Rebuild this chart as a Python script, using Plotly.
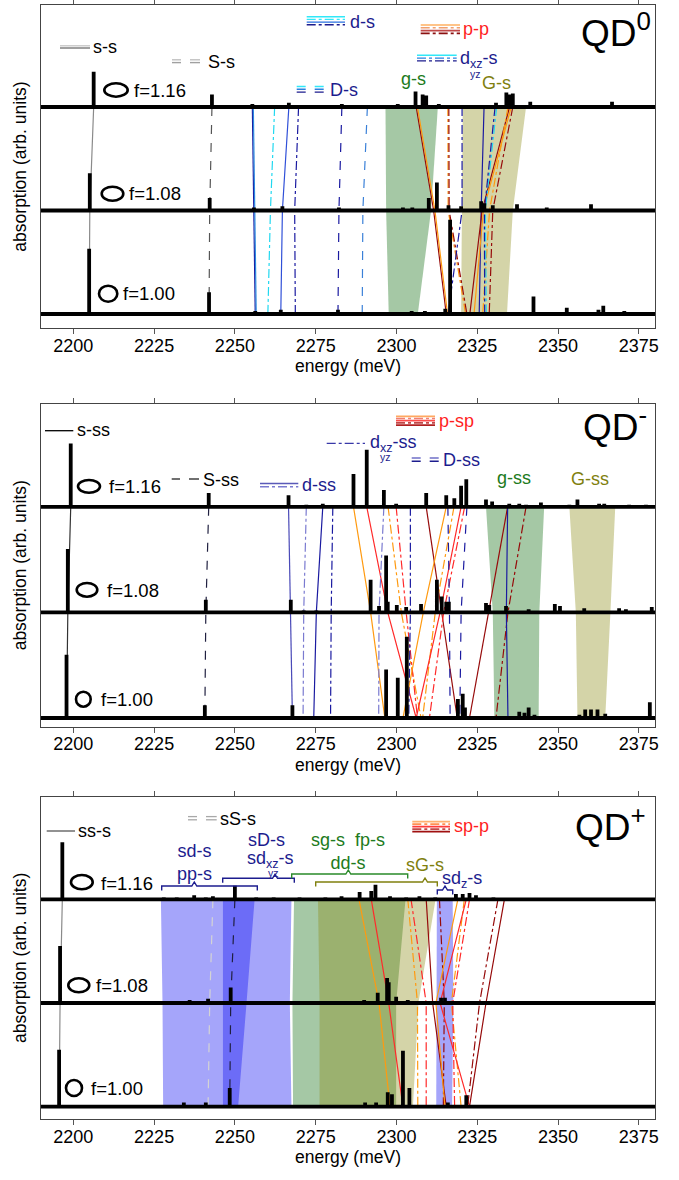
import plotly.graph_objects as go

# ---------------------------------------------------------------- data ----
E_MIN, E_MAX = 2190, 2380
tick_vals = [2200, 2225, 2250, 2275, 2300, 2325, 2350, 2375]
f_labels = ["f=1.16", "f=1.08", "f=1.00"]
offsets = [2, 1, 0]          # vertical offset of the three spectra

# QD0 spectra (peak energy in meV, peak height in offset units)
qd0_f116_E = [2206.3, 2242.9, 2255.4, 2262.3, 2266.7, 2269.7, 2283.1, 2291.0, 2296.8, 2300.4,
              2305.9, 2308.1, 2309.2, 2313.1, 2330.8, 2334.0, 2335.0, 2336.0, 2341.4, 2345.2,
              2347.8, 2351.4, 2355.5, 2360.2, 2363.8, 2366.7, 2373.0, 2376.1]
qd0_f116_h = [0.34, 0.12, 0.03, 0.02, 0.04, 0.02, 0.03, 0.02, 0.02, 0.03,
              0.15, 0.12, 0.11, 0.03, 0.04, 0.14, 0.12, 0.13, 0.05, 0.02,
              0.02, 0.02, 0.02, 0.02, 0.02, 0.05, 0.01, 0.02]
qd0_f108_E = [2205.1, 2242.2, 2255.9, 2261.0, 2264.7, 2268.5, 2282.2, 2289.6, 2298.4, 2302.0,
              2304.9, 2310.0, 2312.5, 2316.1, 2320.0, 2326.2, 2327.2, 2329.8, 2337.3, 2344.4,
              2346.5, 2353.3, 2360.2, 2365.3, 2369.9, 2375.6]
qd0_f108_h = [0.36, 0.12, 0.03, 0.01, 0.04, 0.01, 0.03, 0.01, 0.02, 0.03,
              0.03, 0.12, 0.27, 0.05, 0.04, 0.09, 0.07, 0.05, 0.06, 0.02,
              0.03, 0.02, 0.06, 0.02, 0.02, 0.01]
qd0_f100_E = [2204.9, 2242.0, 2256.3, 2260.2, 2264.2, 2268.7, 2281.9, 2289.4, 2298.4, 2304.7,
              2308.8, 2315.1, 2316.6, 2320.5, 2326.2, 2342.4, 2352.7, 2362.5, 2364.0, 2370.5]
qd0_f100_h = [0.63, 0.21, 0.03, 0.01, 0.04, 0.01, 0.04, 0.01, 0.02, 0.03,
              0.03, 0.05, 0.91, 0.02, 0.01, 0.17, 0.06, 0.04, 0.08, 0.03]

# QD- spectra
qdm_f116_E = [2199.2, 2241.9, 2266.6, 2272.1, 2277.2, 2280.3, 2286.7, 2290.8, 2296.1, 2299.9,
              2309.2, 2315.4, 2317.9, 2320.0, 2321.6, 2327.7, 2329.6, 2334.9, 2338.0, 2340.1,
              2344.7, 2353.5, 2356.0, 2362.7, 2364.3, 2372.0, 2377.2]
qdm_f116_h = [0.60, 0.13, 0.11, 0.02, 0.03, 0.01, 0.31, 0.54, 0.16, 0.03,
              0.13, 0.11, 0.08, 0.20, 0.26, 0.07, 0.05, 0.03, 0.03, 0.02,
              0.04, 0.02, 0.07, 0.03, 0.03, 0.02, 0.02]
qdm_f108_E = [2198.3, 2241.0, 2267.3, 2271.3, 2275.2, 2279.8, 2292.0, 2294.6, 2296.8, 2297.3,
              2300.1, 2303.0, 2307.6, 2312.5, 2314.0, 2315.4, 2316.2, 2327.7, 2328.7, 2333.9,
              2340.9, 2349.0, 2350.6, 2358.1, 2368.9, 2371.0, 2379.0]
qdm_f108_h = [0.60, 0.12, 0.12, 0.02, 0.02, 0.01, 0.31, 0.06, 0.54, 0.10,
              0.07, 0.05, 0.08, 0.31, 0.15, 0.10, 0.10, 0.09, 0.07, 0.06,
              0.03, 0.08, 0.06, 0.04, 0.04, 0.03, 0.05]
qdm_f100_E = [2197.9, 2240.7, 2267.8, 2271.1, 2274.4, 2279.6, 2294.8, 2296.8, 2300.4, 2303.2,
              2306.1, 2310.2, 2316.6, 2319.0, 2320.5, 2321.2, 2324.1, 2331.8, 2338.0, 2339.6,
              2340.9, 2342.7, 2345.2, 2356.6, 2358.4, 2360.2, 2362.2, 2364.6, 2366.9, 2378.4]
qdm_f100_h = [0.60, 0.12, 0.12, 0.01, 0.02, 0.01, 0.01, 0.46, 0.38, 0.77,
              0.02, 0.02, 0.02, 0.18, 0.23, 0.10, 0.02, 0.02, 0.06, 0.05,
              0.10, 0.03, 0.02, 0.03, 0.08, 0.08, 0.08, 0.04, 0.02, 0.15]

# QD+ spectra
qdp_f116_E = [2196.6, 2228.0, 2232.0, 2237.4, 2241.0, 2243.2, 2250.0, 2256.6, 2262.0, 2270.0,
              2278.0, 2283.0, 2288.6, 2292.2, 2293.5, 2298.0, 2303.0, 2307.1, 2312.0, 2318.4,
              2320.5, 2322.6, 2324.6, 2330.0, 2345.0, 2360.0]
qdp_f116_h = [0.55, 0.02, 0.02, 0.04, 0.02, 0.03, 0.13, 0.02, 0.02, 0.02,
              0.02, 0.03, 0.07, 0.08, 0.14, 0.03, 0.02, 0.03, 0.02, 0.05,
              0.05, 0.06, 0.04, 0.02, 0.01, 0.01]
qdp_f108_E = [2195.9, 2228.0, 2232.0, 2236.0, 2241.7, 2248.7, 2252.0, 2262.0, 2280.0, 2290.0,
              2294.2, 2297.1, 2297.6, 2299.9, 2303.5, 2309.0, 2313.8, 2315.0, 2320.0, 2327.7,
              2340.0]
qdp_f108_h = [0.55, 0.02, 0.02, 0.03, 0.04, 0.15, 0.02, 0.01, 0.02, 0.03,
              0.10, 0.24, 0.20, 0.06, 0.03, 0.02, 0.05, 0.05, 0.02, 0.02,
              0.01]
qdp_f100_E = [2195.6, 2228.3, 2234.2, 2241.0, 2248.4, 2260.0, 2270.0, 2283.0, 2290.3, 2293.7,
              2297.3, 2298.6, 2302.0, 2304.0, 2310.0, 2315.9, 2321.6, 2327.7, 2335.0]
qdp_f100_h = [0.55, 0.02, 0.04, 0.04, 0.18, 0.01, 0.01, 0.02, 0.04, 0.04,
              0.14, 0.12, 0.54, 0.18, 0.02, 0.04, 0.11, 0.02, 0.01]

# transition tracks: energy at f=1.16, f=1.08, f=1.00
qd0_link_top = [2206.3, 2242.9, 2255.4, 2255.7, 2262.3, 2266.7, 2269.7, 2283.1, 2291.0, 2306.1,
                2306.5, 2315.9, 2316.2, 2320.3, 2327.1, 2335.0, 2335.5, 2334.5, 2336.0, 2331.0, 2330.5]
qd0_link_mid = [2205.1, 2242.2, 2255.9, 2256.2, 2261.0, 2264.7, 2268.5, 2282.2, 2289.6, 2311.5,
                2311.9, 2316.0, 2316.3, 2320.3, 2326.2, 2326.5, 2326.9, 2328.8, 2329.8, 2327.5, 2327.2]
qd0_link_bot = [2204.9, 2242.0, 2256.3, 2256.6, 2260.2, 2264.2, 2268.7, 2281.9, 2289.4, 2315.4,
                2315.8, 2321.4, 2321.8, 2316.0, 2325.6, 2322.7, 2324.0, 2326.7, 2328.7, 2327.8, 2327.3]

qdm_link_top = [2199.2, 2241.9, 2266.6, 2272.1, 2277.2, 2280.3, 2286.7, 2290.8, 2296.1, 2297.4, 2299.9,
                2304.3, 2309.2, 2315.4, 2317.8, 2320.0, 2321.1, 2315.9, 2321.8, 2334.4, 2340.1, 2334.4]
qdm_link_mid = [2198.3, 2241.0, 2267.3, 2271.3, 2275.2, 2279.8, 2292.0, 2297.3, 2294.6, 2301.5, 2303.0,
                2304.3, 2314.0, 2308.3, 2312.0, 2313.5, 2314.6, 2316.4, 2320.0, 2328.5, 2334.5, 2334.0]
qdm_link_bot = [2197.9, 2240.7, 2267.8, 2271.1, 2274.4, 2279.6, 2296.4, 2306.1, 2294.5, 2307.6, 2306.5,
                2303.8, 2318.8, 2302.0, 2308.1, 2306.1, 2310.2, 2316.6, 2319.6, 2322.6, 2330.8, 2334.5]

qdp_link_top = [2196.6, 2250.0, 2243.2, 2288.4, 2292.2, 2303.5, 2304.5, 2309.2, 2313.3, 2319.0,
                2321.0, 2321.6, 2322.6, 2333.4, 2331.4]
qdp_link_mid = [2195.9, 2248.7, 2242.2, 2294.6, 2297.6, 2306.5, 2309.2, 2311.2, 2314.8, 2312.2,
                2317.0, 2313.5, 2317.4, 2327.7, 2325.7]
qdp_link_bot = [2195.6, 2248.4, 2241.7, 2298.0, 2302.0, 2306.6, 2309.2, 2315.4, 2314.5, 2315.0,
                2320.0, 2322.6, 2318.0, 2322.6, 2322.0]

# shaded transition groups: left / right edge energies at f=1.16, 1.08, 1.00
qd0_band_left = [[2296.6, 2296.8, 2297.6], [2320.5, 2320.3, 2320.0]]
qd0_band_right = [[2312.8, 2310.7, 2306.6], [2340.1, 2336.0, 2334.2]]
qdm_band_left = [[2327.7, 2329.8, 2330.3], [2353.5, 2355.5, 2356.0]]
qdm_band_right = [[2345.7, 2344.2, 2344.0], [2367.7, 2366.2, 2364.6]]
qdp_band_left = [[2227.1, 2227.6, 2227.8], [2246.3, 2246.3, 2246.3], [2268.3, 2267.8, 2268.0],
                 [2275.7, 2276.2, 2276.2], [2312.5, 2312.3, 2312.3]]
qdp_band_right = [[2256.1, 2253.6, 2251.0], [2267.5, 2267.0, 2267.5], [2302.8, 2299.9, 2299.9],
                  [2312.1, 2306.8, 2305.1], [2317.4, 2317.6, 2317.2]]

# ------------------------------------------------------------- styling ----
W, H = 679, 1180
FONT = "Liberation Sans, Arial, Helvetica, sans-serif"
NAVY = "#1c1c8e"
GREEN = "#207a20"
OLIVE = "#80800e"
RED = "#ff1f1f"

BLUE_FILL = "rgba(12,12,241,0.37)"
GREEN_FILL = "rgba(10,105,10,0.37)"
OLIVE_FILL = "rgba(138,138,18,0.37)"

STY = {
    "gray": ("#8a8a8a", "solid"),
    "black": ("#333333", "solid"),
    "gdash": ("#555555", "dash"),
    "ldash": ("#d4d4d4", "dash"),
    "kdash": ("#202040", "dash"),
    "navy": ("#1a1aa0", "solid"),
    "navydd": ("#1a1aa0", "dashdot"),
    "navyd": ("#1a1aa0", "dash"),
    "dodger": ("#2a8ae0", "solid"),
    "steeld": ("#3a80d8", "dash"),
    "royal": ("#3050d8", "solid"),
    "cyandd": ("#20d8f0", "dashdot"),
    "slate": ("#4a4ab8", "solid"),
    "slatedd": ("#7a7ad0", "dashdot"),
    "orange": ("#ff9a10", "solid"),
    "orangedd": ("#ff9a10", "dashdot"),
    "red": ("#ff2a2a", "solid"),
    "reddd": ("#ff2a2a", "dashdot"),
    "dred": ("#960a0a", "solid"),
    "dreddd": ("#960a0a", "dashdot"),
}

qd0_link_style = ["gray", "gdash", "navy", "dodger", "cyandd", "royal", "navydd", "navyd", "steeld",
                  "dred", "orange", "orangedd", "dreddd", "navydd", "navy", "dred", "orange",
                  "orangedd", "dreddd", "cyandd", "navydd"]
qdm_link_style = ["black", "kdash", "slate", "slatedd", "navy", "navydd", "orange", "red", "slatedd",
                  "orangedd", "reddd", "navydd", "dred", "orange", "orangedd", "red", "reddd",
                  "navyd", "navyd", "dred", "dreddd", "navy"]
qdp_link_style = ["gray", "kdash", "ldash", "orange", "red", "orangedd", "reddd", "dred", "dreddd",
                  "orange", "orangedd", "red", "reddd", "dred", "dreddd"]

qd0_band_fill = [GREEN_FILL, OLIVE_FILL]
qdm_band_fill = [GREEN_FILL, OLIVE_FILL]
qdp_band_fill = [BLUE_FILL, BLUE_FILL, GREEN_FILL, OLIVE_FILL, BLUE_FILL]

# panel frames in pixels: top, bottom, baseline of f=1.00, spectrum spacing
PANELS = [
    dict(top=5, bottom=328.3, base=314.0, step=103.5),
    dict(top=404, bottom=726.7, base=718.0, step=105.6),
    dict(top=796.7, bottom=1119.3, base=1106.7, step=103.7),
]
X0_PX, X1_PX = 41, 655

spectra = [
    [(qd0_f116_E, qd0_f116_h), (qd0_f108_E, qd0_f108_h), (qd0_f100_E, qd0_f100_h)],
    [(qdm_f116_E, qdm_f116_h), (qdm_f108_E, qdm_f108_h), (qdm_f100_E, qdm_f100_h)],
    [(qdp_f116_E, qdp_f116_h), (qdp_f108_E, qdp_f108_h), (qdp_f100_E, qdp_f100_h)],
]
links = [
    (qd0_link_top, qd0_link_mid, qd0_link_bot, qd0_link_style),
    (qdm_link_top, qdm_link_mid, qdm_link_bot, qdm_link_style),
    (qdp_link_top, qdp_link_mid, qdp_link_bot, qdp_link_style),
]
bands = [
    (qd0_band_left, qd0_band_right, qd0_band_fill),
    (qdm_band_left, qdm_band_right, qdm_band_fill),
    (qdp_band_left, qdp_band_right, qdp_band_fill),
]


def px(x):
    return x / W


def py(y):
    return 1 - y / H


fig = go.Figure()
layout = dict(
    width=W, height=H, margin=dict(l=0, r=0, t=0, b=0),
    paper_bgcolor="white", plot_bgcolor="white", showlegend=False,
    template="none", font=dict(family=FONT, size=18, color="black"),
)

for i, p in enumerate(PANELS):
    sfx = "" if i == 0 else str(i + 1)
    xa, ya = "x" + sfx, "y" + sfx
    y_top = (p["base"] - p["top"]) / p["step"]
    y_bot = (p["base"] - p["bottom"]) / p["step"]
    layout["xaxis" + sfx] = dict(
        domain=[px(X0_PX), px(X1_PX)], range=[E_MIN, E_MAX], anchor=ya,
        tickvals=tick_vals, ticks="outside", ticklen=5, tickwidth=1, tickcolor="#555",
        ticklabelstandoff=-4,
        showline=True, linecolor="#444", linewidth=1.3, mirror="allticks",
        showgrid=False, zeroline=False, tickfont=dict(size=18, family=FONT, color="black"),
        automargin=False,
    )
    layout["yaxis" + sfx] = dict(
        domain=[py(p["bottom"]), py(p["top"])], range=[y_bot, y_top], anchor=xa,
        showticklabels=False, ticks="", showline=True, linecolor="#444", linewidth=1.3,
        mirror=True, showgrid=False, zeroline=False, automargin=False,
    )

    # shaded groups
    left, right, fills = bands[i]
    for L, R, fc in zip(left, right, fills):
        xs = [L[0], L[1], L[2], R[2], R[1], R[0], L[0]]
        ys = [offsets[0], offsets[1], offsets[2], offsets[2], offsets[1], offsets[0], offsets[0]]
        fig.add_trace(go.Scatter(x=xs, y=ys, xaxis=xa, yaxis=ya, mode="lines", fill="toself",
                                 fillcolor=fc, line=dict(width=0), hoverinfo="skip"))

    # transition tracks between the spectra
    top, mid, bot, sty = links[i]
    for a, b, c, s in zip(top, mid, bot, sty):
        col, dash = STY[s]
        fig.add_trace(go.Scatter(x=[a, b, c], y=offsets, xaxis=xa, yaxis=ya, mode="lines",
                                 line=dict(color=col, width=1.2, dash=dash), hoverinfo="skip"))

    # spectra
    for (E, h), off in zip(spectra[i], offsets):
        xs, ys = [E_MIN], [off]
        for e, hh in sorted(zip(E, h)):
            xs += [e, e, e]
            ys += [off, off + hh, off]
        xs.append(E_MAX)
        ys.append(off)
        fig.add_trace(go.Scatter(x=xs, y=ys, xaxis=xa, yaxis=ya, mode="lines",
                                 line=dict(color="black", width=3.8), hoverinfo="skip"))

fig.update_layout(**layout)

ann = []
shapes = []


def text(x, y, s, size=18, color="black", anchor="left", yanchor="middle", align="center"):
    ann.append(dict(x=px(x), y=py(y), xref="paper", yref="paper", text=s, showarrow=False,
                    xanchor=anchor, yanchor=yanchor, align=align, borderpad=0,
                    font=dict(size=size, color=color, family=FONT)))


def hline(x0, x1, y, color, width=1.6, dash="solid"):
    shapes.append(dict(type="line", xref="paper", yref="paper", x0=px(x0), x1=px(x1),
                       y0=py(y), y1=py(y), line=dict(color=color, width=width, dash=dash)))


def ellipse(x0, x1, y0, y1):
    shapes.append(dict(type="circle", xref="paper", yref="paper", x0=px(x0), x1=px(x1),
                       y0=py(y1), y1=py(y0), line=dict(color="black", width=2.6)))


def brace(x0, x1, y, color, xc=None, depth=4.5, notch=4):
    xc = (x0 + x1) / 2 if xc is None else xc
    pts = [(x0, y + depth), (x0, y), (xc - 2.5, y), (xc, y - notch), (xc + 2.5, y), (x1, y), (x1, y + depth)]
    path = "M " + " L ".join(f"{px(a):.5f},{py(b):.5f}" for a, b in pts)
    shapes.append(dict(type="path", xref="paper", yref="paper", path=path,
                       line=dict(color=color, width=1.4)))


def stacked(x, specs, width=1.6):
    # a small bundle of horizontal line samples
    for y, col, dash in specs:
        hline(x[0], x[1], y, col, width=width, dash=dash)


# axis titles
for p in PANELS:
    text((X0_PX + X1_PX) / 2, p["bottom"] + 38, "energy (meV)", size=17.5, anchor="center")
    ann.append(dict(x=px(20), y=py((p["top"] + p["bottom"]) / 2), xref="paper", yref="paper",
                    text="absorption (arb. units)", textangle=-90, showarrow=False,
                    xanchor="center", yanchor="middle", font=dict(size=17.5, family=FONT)))

# f-factor labels with the dot-shape symbols
f_pos = [
    [(132.7, 90), (128, 193), (121.7, 294)],
    [(108, 486), (106, 590), (100, 699)],
    [(100, 883), (95, 985.7), (90, 1088)],
]
ell_pos = [
    [(104.3, 127.7, 83.3, 96.7), (101.7, 123.3, 186.7, 200.7), (99, 117.3, 285.7, 301.7)],
    [(78, 100, 480, 492.7), (76.7, 97.3, 583, 596.7), (76, 90.7, 691.7, 706.7)],
    [(71, 92.7, 875, 889.3), (68.3, 89.3, 978.3, 992.3), (66, 82, 1080, 1096)],
]
for i in range(3):
    for lab, (x, y), e in zip(f_labels, f_pos[i], ell_pos[i]):
        text(x, y, lab, size=18.5)
        ellipse(*e)

# ---- QD0 labels
text(580, 30, "QD<sup>0</sup>", size=37)
hline(60, 90, 45.8, "#c8c8c8", width=1.4)
hline(60, 90, 48, "#777777", width=1.4)
text(92, 47, "s-s")
for a, b in [(172, 181), (190, 200)]:
    hline(a, b, 59.8, "#c0c0c0", width=1.4)
    hline(a, b, 62.6, "#a0a0a0", width=1.4)
text(207, 62, "S-s")
stacked((306.7, 345), [(16.7, "#30e8f8", "solid"), (19.4, "#30e8f8", "dashdot"),
                       (22.1, "#2a70e0", "solid"), (24.8, NAVY, "dashdot")], width=1.4)
text(349, 22, "d-s", color=NAVY)
stacked((296.7, 326.7), [(86.5, "#30e8f8", "dash"), (89.3, "#2a80e0", "dash"),
                         (92.1, NAVY, "dash")], width=1.4)
text(329, 90, "D-s", color=NAVY)
stacked((420.7, 460), [(25, "#ffb060", "solid"), (27.8, "#f0a070", "dashdot"),
                       (30.6, "#c04848", "solid"), (33.4, "#8b1010", "dashdot")], width=1.6)
text(462, 29, "p-p", color=RED)
stacked((417, 456.7), [(55.3, "#30e8f8", "solid"), (58.1, "#2a80e0", "dashdot"),
                       (60.9, NAVY, "dashdot")], width=1.4)
text(458.5, 60, "d<sub>xz</sub>-s", color=NAVY)
text(468.5, 74, "yz", size=10.5, color=NAVY)
text(413.7, 79, "g-s", color=GREEN, anchor="center")
text(496.7, 83, "G-s", color=OLIVE, anchor="center")

# ---- QD- labels
text(582, 424, "QD<sup>-</sup>", size=37)
hline(45, 73.3, 430.7, "black", width=1.3)
text(76, 430.5, "s-ss")
for a, b in [(171.7, 180), (189, 199)]:
    hline(a, b, 479, "#222222", width=1.3)
text(202, 479.5, "S-ss")
stacked((260, 298.3), [(483.5, "#5a5ab8", "solid"), (486.8, "#7a7ad0", "dashdot")], width=1.5)
text(301, 485, "d-ss", color=NAVY)
hline(326.7, 365, 443.3, "#3838a8", width=1.3, dash="dashdot")
text(368.5, 443, "d<sub>xz</sub>-ss", color=NAVY)
text(378.5, 457.5, "yz", size=10.5, color=NAVY)
stacked((411.7, 440), [(458, "#7070c8", "dash"), (461.3, NAVY, "dash")], width=1.5)
text(442, 460, "D-ss", color=NAVY)
stacked((396, 435), [(416.3, "#ffa860", "solid"), (418.5, "#f08070", "dashdot"),
                     (420.7, "#ff4a4a", "solid"), (422.9, "#c04848", "dashdot"),
                     (425.1, "#b02020", "solid")], width=1.7)
text(437.5, 421, "p-sp", color=RED)
text(513.8, 477.7, "g-ss", color=GREEN, anchor="center")
text(590.3, 479, "G-ss", color=OLIVE, anchor="center")

# ---- QD+ labels
text(574, 824, "QD<sup>+</sup>", size=37)
hline(46.7, 75, 831, "#777777", width=1.6)
text(77, 831, "ss-s")
for a, b in [(188, 197), (206, 216.7)]:
    hline(a, b, 816.6, "#a8a8a8", width=1.3)
    hline(a, b, 819.8, "#a8a8a8", width=1.3)
text(219, 818.5, "sS-s")
text(194.3, 862, "sd-s<br>pp-s", color=NAVY, anchor="center")
brace(161.7, 257.3, 886, NAVY, xc=194.3)
text(266.7, 840, "sD-s", color=NAVY, anchor="center")
text(246, 859, "sd<sub>xz</sub>-s", color=NAVY)
text(266.5, 873, "yz", size=10.5, color=NAVY)
brace(222.7, 294.3, 878.3, NAVY, xc=275)
text(347.5, 851, "sg-s\u00a0\u00a0fp-s<br>dd-s", color=GREEN, anchor="center")
brace(291.7, 407.7, 874, "#2a8a2a", xc=348.3)
text(425, 865, "sG-s", color=OLIVE, anchor="center")
brace(315.7, 437.3, 882, OLIVE, xc=425)
text(441, 879, "sd<sub>z</sub>-s", color=NAVY)
brace(437.3, 452.7, 890, NAVY, xc=445)
stacked((412.3, 450), [(821.7, "#ffb070", "solid"), (824.2, "#ff9050", "dashdot"),
                       (826.7, "#ff3a3a", "solid"), (829.2, "#c04848", "dashdot"),
                       (831.7, "#a01010", "solid")], width=1.7)
text(452.5, 826, "sp-p", color=RED)

fig.update_layout(annotations=ann, shapes=shapes)
fig.write_html("out.html")
